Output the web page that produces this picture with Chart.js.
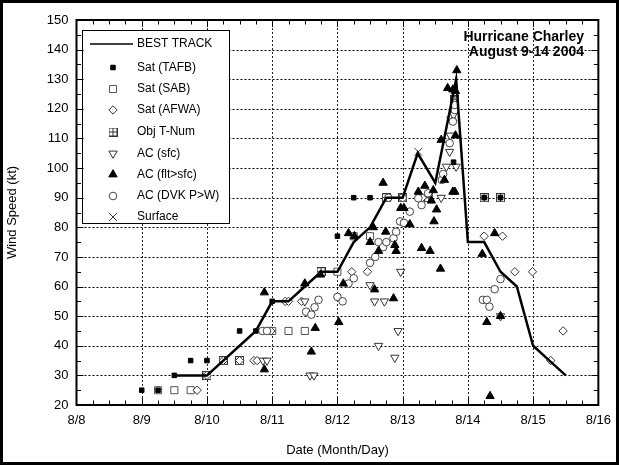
<!DOCTYPE html>
<html><head><meta charset="utf-8">
<script src="https://cdn.jsdelivr.net/npm/chart.js@4.4.0/dist/chart.umd.min.js"></script>
<style>html,body{margin:0;padding:0;background:#fff;}#wrap{width:619px;height:465px;}</style>
</head><body><div id="wrap"><canvas id="c" width="619" height="465"></canvas></div>
<script>
// ---- data (day of August, wind speed in kt) ----
const bestTrackDay = [9.5,10.0,10.25,10.5,10.75,11.0,11.25,11.5,11.75,12.0,12.25,12.5,12.75,13.0,13.23,13.5,13.82,14.0,14.25,14.5,14.75,15.0,15.25,15.5];
const bestTrackKt  = [30,30,35,40,45,55,55,60,65,65,75,80,90,90,105,95,130,75,75,65,60,40,35,30];

const tafbDay = [9.0,9.25,9.5,9.75,10.0,10.5,10.75,11.0,12.0,12.25,12.5,13.78,14.25,14.5];
const tafbKt  = [25,25,30,35,35,45,45,55,77,90,90,102,90,90];

const sabDay = [9.25,9.5,9.75,10.0,10.25,10.5,11.0,11.25,11.5,11.75,12.0,12.25,12.5,12.75,13.0,13.4,14.25,14.5];
const sabKt  = [25,25,25,30,35,35,45,45,45,65,65,77,77,90,90,90,90,90];

const afwaDay = [9.85,10.0,10.25,10.5,10.72,10.77,10.98,11.2,11.25,11.45,12.22,12.46,13.3,13.74,13.77,13.8,14.25,14.53,14.72,14.99,15.27,15.46];
const afwaKt  = [25,30,35,35,35,35,45,55,55,55,65,65,90,117,116,122,77,77,65,65,35,45];

const objDay = [10.0,10.25,10.5,11.75,12.75,13.0,13.4,13.8,14.25,14.5];
const objKt  = [30,35,35,65,90,90,90,123,90,90];

const acSfcDay = [10.86,10.92,11.5,11.58,11.64,12.5,12.57,12.63,12.72,12.88,12.93,12.97,13.59,13.67,13.72,13.73,13.78,13.82,14.5];
const acSfcKt  = [35,35,55,30,30,60.5,55,40,55,36,45,65,90,100.5,105.5,111,118,100.5,50];

const acFltDay = [10.88,10.88,11.5,11.6,11.66,11.74,12.02,12.09,12.17,12.26,12.5,12.55,12.57,12.63,12.7,12.74,12.86,12.88,12.9,12.97,13.02,13.11,13.24,13.29,13.34,13.42,13.44,13.47,13.48,13.52,13.58,13.59,13.64,13.69,13.77,13.77,13.8,13.81,13.81,13.83,14.22,14.29,14.34,14.41,14.5];
const acFltKt  = [32,58,61,38,46,64,48,61,78,77,75,80,59,72,95,78.5,56,74,72,86.5,86.5,81,92,73,94,72,89,92.5,82,86,66,109.5,96,127,92,126.5,92,126,111,133,71,48,23,78,50];

const dvkDay = [10.85,10.92,11.52,11.6,11.65,11.71,12.0,12.08,12.17,12.25,12.5,12.58,12.63,12.7,12.75,12.78,12.86,12.9,12.96,13.0,13.02,13.11,13.24,13.29,13.39,13.6,13.62,13.72,13.77,13.8,13.8,14.23,14.29,14.33,14.41,14.5];
const dvkKt  = [45,45,51.5,50.5,53,55.5,56.5,55,61,62.8,68,70,75,73.3,75,90,76.3,78.5,82,90,81.5,85.3,89.8,87.5,91.5,96,98,108.4,115.7,119.6,121.3,55.5,55.5,53.2,59.1,62.5];

const surfaceDay = [13.24];
const surfaceKt  = [105.5];

const xTickDays = [8,9,10,11,12,13,14,15,16];
const yTickKt = [20,30,40,50,60,70,80,90,100,110,120,130,140,150];
const titleLines = ['Hurricane Charley','August 9-14 2004'];

// ---- styles ----
const FONT = '"Liberation Sans", Arial, sans-serif';
Chart.defaults.font.family = FONT;
Chart.defaults.color = '#000';

function pts(xs, ys){ return xs.map((v,i)=>({x:v, y:ys[i]})); }

// Obj T-Num symbol: square with a cross
const objImg = document.createElement('canvas');
objImg.width = 9; objImg.height = 9;
(function(){
  const g = objImg.getContext('2d');
  g.fillStyle = '#fff'; g.fillRect(0,0,9,9);
  g.strokeStyle = '#333'; g.lineWidth = 1;
  g.strokeRect(0.5,0.5,8,8);
  g.beginPath(); g.moveTo(4.5,0.5); g.lineTo(4.5,8.5); g.moveTo(0.5,4.5); g.lineTo(8.5,4.5); g.stroke();
})();

const datasets = [
  {label:'BEST TRACK', data:pts(bestTrackDay,bestTrackKt), showLine:true, borderColor:'#000', borderWidth:2.5, pointRadius:0, order:0, lg:{type:'line'}},
  {label:'Sat (TAFB)', data:pts(tafbDay,tafbKt), pointStyle:'rect', pointRadius:3.2, backgroundColor:'#000', borderColor:'#000', borderWidth:1, order:1},
  {label:'Sat (SAB)', data:pts(sabDay,sabKt), pointStyle:'rect', pointRadius:5, backgroundColor:'#fff', borderColor:'#555', borderWidth:1, order:7},
  {label:'Sat (AFWA)', data:pts(afwaDay,afwaKt), pointStyle:'rectRot', pointRadius:4.2, backgroundColor:'#fff', borderColor:'#333', borderWidth:1, order:5},
  {label:'Obj T-Num', data:pts(objDay,objKt), pointStyle:objImg, pointRadius:4.5, order:6},
  {label:'AC (sfc)', data:pts(acSfcDay,acSfcKt), pointStyle:'triangle', rotation:180, pointRadius:4.8, backgroundColor:'#fff', borderColor:'#333', borderWidth:1, order:4},
  {label:'AC (flt>sfc)', data:pts(acFltDay,acFltKt), pointStyle:'triangle', pointRadius:4.8, backgroundColor:'#000', borderColor:'#000', borderWidth:1, order:2},
  {label:'AC (DVK P>W)', data:pts(dvkDay,dvkKt), pointStyle:'circle', pointRadius:3.8, backgroundColor:'#fff', borderColor:'#444', borderWidth:1, order:3},
  {label:'Surface', data:pts(surfaceDay,surfaceKt), pointStyle:'crossRot', pointRadius:5.5, backgroundColor:'#333', borderColor:'#333', borderWidth:1, order:0}
];

const decor = {
  id:'decor',
  beforeDatasetsDraw(chart){
    const {ctx, chartArea:a, scales:{x,y}} = chart;
    ctx.save();
    ctx.lineWidth = 1;
    ctx.setLineDash([2,2]);
    ctx.strokeStyle = '#000';
    yTickKt.forEach(v=>{
      if (v===20 || v===150) return;
      const py = Math.round(y.getPixelForValue(v)) + 0.5;
      ctx.beginPath(); ctx.moveTo(a.left, py); ctx.lineTo(a.right, py); ctx.stroke();
    });
    ctx.strokeStyle = '#222';
    xTickDays.forEach(d=>{
      if (d===8 || d===16) return;
      const px = Math.round(x.getPixelForValue(d)) + 0.5;
      ctx.beginPath(); ctx.moveTo(px, a.top); ctx.lineTo(px, a.bottom); ctx.stroke();
    });
    ctx.restore();
  },
  afterDatasetsDraw(chart){
    const {ctx, chartArea:a} = chart;
    ctx.save();
    // title
    ctx.fillStyle = '#000';
    ctx.font = 'bold 14px ' + FONT;
    ctx.textAlign = 'right'; ctx.textBaseline = 'middle';
    ctx.fillText(titleLines[0], 584, 37);
    ctx.fillText(titleLines[1], 584, 52);
    // legend box
    const L = 82.5, T = 30.5, W = 147, H = 193;
    ctx.fillStyle = '#fff'; ctx.fillRect(L, T, W, H);
    ctx.strokeStyle = '#000'; ctx.lineWidth = 1; ctx.strokeRect(L, T, W, H);
    ctx.font = '12px ' + FONT;
    ctx.textAlign = 'left'; ctx.textBaseline = 'middle';
    const ys = [44, 67.5, 89, 110, 132, 153.5, 174.5, 196, 217];
    chart.data.datasets.forEach((ds, i)=>{
      const yy = ys[i];
      if (ds.lg && ds.lg.type === 'line'){
        ctx.strokeStyle = '#000'; ctx.lineWidth = 1.5;
        ctx.beginPath(); ctx.moveTo(90, yy); ctx.lineTo(133, yy); ctx.stroke();
      } else {
        ctx.fillStyle = ds.backgroundColor || '#fff';
        ctx.strokeStyle = ds.borderColor || '#000';
        ctx.lineWidth = ds.borderWidth || 1;
        Chart.helpers.drawPoint(ctx, {pointStyle: ds.pointStyle, rotation: ds.rotation || 0, radius: ds.pointRadius, borderWidth: ds.borderWidth || 0}, 113, yy);
      }
      ctx.fillStyle = '#000';
      ctx.fillText(ds.label, 137, yy);
    });
    ctx.restore();
  },
  afterDraw(chart){
    const {ctx, chartArea:a, scales:{x,y}} = chart;
    ctx.save();
    ctx.strokeStyle = '#000';
    ctx.lineWidth = 1;
    // x ticks (quarter days)
    for (let d = 8.25; d < 16; d += 0.25){
      const px = Math.round(x.getPixelForValue(d)) + 0.5;
      const len = (Math.abs(d - Math.round(d)) < 1e-6) ? 7 : 4.5;
      ctx.beginPath();
      ctx.moveTo(px, a.bottom); ctx.lineTo(px, a.bottom - len);
      ctx.moveTo(px, a.top); ctx.lineTo(px, a.top + len);
      ctx.stroke();
    }
    // y ticks (every 5 kt)
    for (let v = 25; v < 150; v += 5){
      const py = Math.round(y.getPixelForValue(v)) + 0.5;
      const len = (v % 10 === 0) ? 7 : 4.5;
      ctx.beginPath();
      ctx.moveTo(a.left, py); ctx.lineTo(a.left + len, py);
      ctx.moveTo(a.right, py); ctx.lineTo(a.right - len, py);
      ctx.stroke();
    }
    // plot frame
    ctx.lineWidth = 2;
    ctx.strokeRect(a.left, a.top, a.right - a.left, a.bottom - a.top);
    // outer figure border
    ctx.lineWidth = 3;
    ctx.strokeRect(1.5, 1.5, chart.width - 3, chart.height - 3);
    ctx.restore();
  }
};

new Chart(document.getElementById('c'), {
  type: 'scatter',
  data: { datasets },
  options: {
    responsive: false,
    animation: false,
    devicePixelRatio: 1,
    layout: { padding: { top: 20, right: 18, left: 0, bottom: 0 } },
    plugins: { legend: { display: false }, tooltip: { enabled: false } },
    scales: {
      x: {
        type: 'linear', min: 8, max: 16,
        afterFit(s){ s.height = 60; },
        afterBuildTicks(s){ s.ticks = xTickDays.map(v=>({value:v})); },
        ticks: { callback: v => '8/' + v, font: { size: 13 }, padding: 8, maxRotation: 0, autoSkip: false },
        grid: { display: false, drawTicks: false },
        border: { display: false },
        title: { display: true, text: 'Date (Month/Day)', font: { size: 13 }, padding: { top: 0, bottom: 7 } }
      },
      y: {
        type: 'linear', min: 20, max: 150,
        afterFit(s){ s.width = 76.5; },
        afterBuildTicks(s){ s.ticks = yTickKt.map(v=>({value:v})); },
        ticks: { font: { size: 13 }, padding: 8, autoSkip: false },
        grid: { display: false, drawTicks: false },
        border: { display: false },
        title: { display: true, text: 'Wind Speed (kt)', font: { size: 13 }, padding: { top: 5, bottom: 0 } }
      }
    }
  },
  plugins: [decor]
});
</script></body></html>
